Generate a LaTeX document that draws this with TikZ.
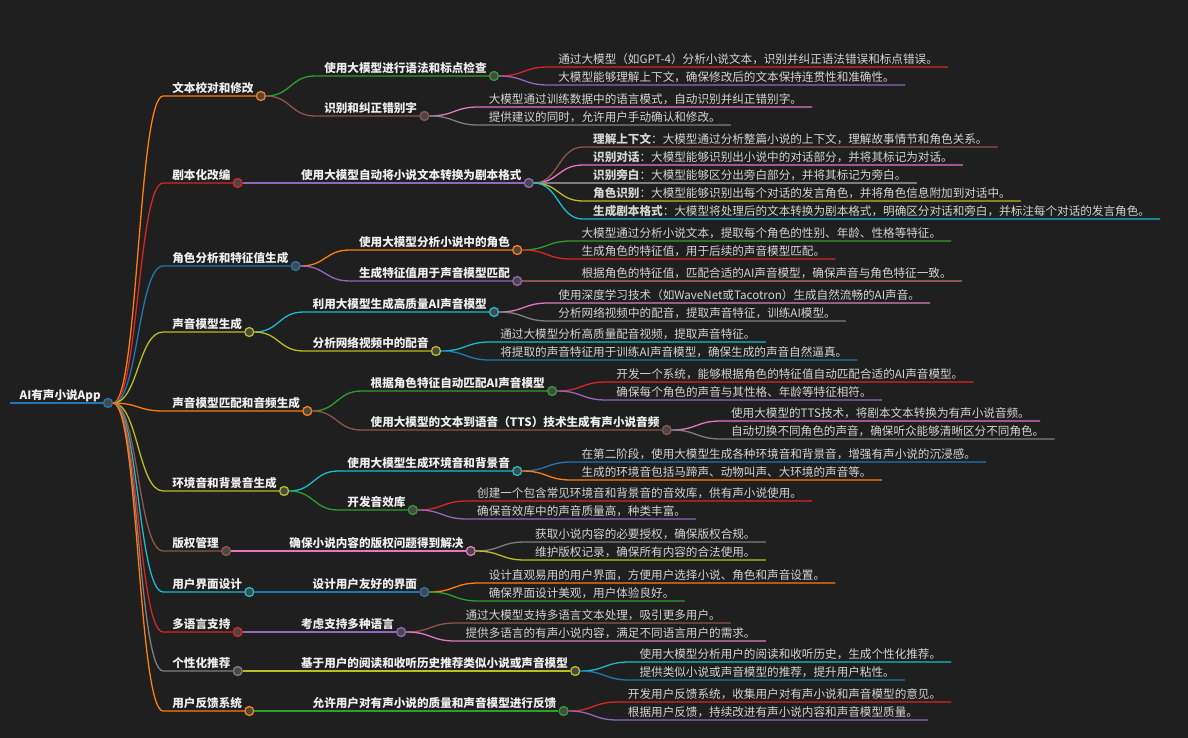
\documentclass[tikz,border=0pt]{standalone}
\usepackage{fontspec}
\setmainfont{Noto Sans CJK SC}
\usetikzlibrary{positioning, calc}
\definecolor{fondo}{RGB}{31,31,31}
\definecolor{textoTema}{RGB}{238,238,238}
\definecolor{textoHoja}{RGB}{212,212,212}
\definecolor{rellenoPunto}{RGB}{72,72,72}
\definecolor{cAzul}{RGB}{31,119,180}
\definecolor{cNaranja}{RGB}{255,127,14}
\definecolor{cVerde}{RGB}{44,160,44}
\definecolor{cRojo}{RGB}{214,39,40}
\definecolor{cMorado}{RGB}{148,103,189}
\definecolor{cMarron}{RGB}{140,86,75}
\definecolor{cRosa}{RGB}{227,119,194}
\definecolor{cGris}{RGB}{127,127,127}
\definecolor{cOliva}{RGB}{188,189,34}
\definecolor{cCian}{RGB}{23,190,207}
\begin{document}
\begin{tikzpicture}
        [
        x=1pt, y=-1pt,
            punto/.style={
                circle,
                draw=#1,
                fill=rellenoPunto,
                line width=1.3pt,
                minimum size=9pt,
                inner sep=0pt
            },
            tema/.style={
                font=\bfseries\fontsize{11.6}{13}\selectfont,
                text=textoTema,
                inner xsep=9pt,
                inner ysep=2pt,
                text depth=1.2pt
            },
            hoja/.style={
                font=\fontsize{11.6}{13}\selectfont,
                text=textoHoja,
                inner xsep=10pt,
                inner ysep=2pt,
                text depth=1.2pt
            },
            rama/.style={
                draw=#1,
                line width=1.3pt
            },
            enlace/.style={
                to path={.. controls ($(\tikztostart)!.5!(\tikztotarget |- \tikztostart)$) and ($(\tikztotarget)!.5!(\tikztostart |- \tikztotarget)$) .. (\tikztotarget) \tikztonodes}
            }
        ]
        \fill[fondo] (0,0) rectangle (1188,738);
        \useasboundingbox (0,0) rectangle (1188,738);

        % raiz
        \node(raiz) [punto=cAzul] at (108,403) {};
        \node(app) [tema, above left=0pt and -7pt of raiz.west] {AI有声小说App};
        \draw[rama=cAzul] (app.south west)--(raiz);

        % primer nivel
        \node(revision) [tema, above right=307pt and 50pt of raiz.east] {文本校对和修改};
        \node(revisionP) [punto=cNaranja, right=-7pt of revision.south east] {};
        \node(guion) [tema, above right=220pt and 50pt of raiz.east] {剧本化改编};
        \node(guionP) [punto=cRojo, right=-7pt of guion.south east] {};
        \node(personajes) [tema, above right=137pt and 50pt of raiz.east] {角色分析和特征值生成};
        \node(personajesP) [punto=cAzul, right=-7pt of personajes.south east] {};
        \node(voces) [tema, above right=71pt and 50pt of raiz.east] {声音模型生成};
        \node(vocesP) [punto=cOliva, right=-7pt of voces.south east] {};
        \node(audio) [tema, above right=-8pt and 50pt of raiz.east] {声音模型匹配和音频生成};
        \node(audioP) [punto=cNaranja, right=-7pt of audio.south east] {};
        \node(ambiente) [tema, above right=-88pt and 50pt of raiz.east] {环境音和背景音生成};
        \node(ambienteP) [punto=cOliva, right=-7pt of ambiente.south east] {};
        \node(derechos) [tema, above right=-148pt and 50pt of raiz.east] {版权管理};
        \node(derechosP) [punto=cMarron, right=-7pt of derechos.south east] {};
        \node(interfaz) [tema, above right=-189pt and 50pt of raiz.east] {用户界面设计};
        \node(interfazP) [punto=cCian, right=-7pt of interfaz.south east] {};
        \node(idiomas) [tema, above right=-229pt and 50pt of raiz.east] {多语言支持};
        \node(idiomasP) [punto=cRojo, right=-7pt of idiomas.south east] {};
        \node(recomendacion) [tema, above right=-268pt and 50pt of raiz.east] {个性化推荐};
        \node(recomendacionP) [punto=cGris, right=-7pt of recomendacion.south east] {};
        \node(opiniones) [tema, above right=-308pt and 50pt of raiz.east] {用户反馈系统};
        \node(opinionesP) [punto=cNaranja, right=-7pt of opiniones.south east] {};

        \draw[rama=cNaranja] (raiz.east) to[enlace] (revision.south west)--(revisionP);
        \draw[rama=cRojo] (raiz.east) to[enlace] (guion.south west)--(guionP);
        \draw[rama=cAzul] (raiz.east) to[enlace] (personajes.south west)--(personajesP);
        \draw[rama=cOliva] (raiz.east) to[enlace] (voces.south west)--(vocesP);
        \draw[rama=cNaranja] (raiz.east) to[enlace] (audio.south west)--(audioP);
        \draw[rama=cOliva] (raiz.east) to[enlace] (ambiente.south west)--(ambienteP);
        \draw[rama=cMarron] (raiz.east) to[enlace] (derechos.south west)--(derechosP);
        \draw[rama=cCian] (raiz.east) to[enlace] (interfaz.south west)--(interfazP);
        \draw[rama=cRojo] (raiz.east) to[enlace] (idiomas.south west)--(idiomasP);
        \draw[rama=cGris] (raiz.east) to[enlace] (recomendacion.south west)--(recomendacionP);
        \draw[rama=cNaranja] (raiz.east) to[enlace] (opiniones.south west)--(opinionesP);

        % segundo nivel
        \node(gramatica) [tema, above right=20pt and 49pt of revisionP.east] {使用大模型进行语法和标点检查};
        \node(gramaticaP) [punto=cVerde, right=-7pt of gramatica.south east] {};
        \node(erratas) [tema, above right=-20pt and 49pt of revisionP.east] {识别和纠正错别字};
        \node(erratasP) [punto=cMarron, right=-7pt of erratas.south east] {};
        \node(formato) [tema, above right=0pt and 49pt of guionP.east] {使用大模型自动将小说文本转换为剧本格式};
        \node(formatoP) [punto=cMorado, right=-7pt of formato.south east] {};
        \node(analisis) [tema, above right=16pt and 49pt of personajesP.east] {使用大模型分析小说中的角色};
        \node(analisisP) [punto=cNaranja, right=-7pt of analisis.south east] {};
        \node(rasgos) [tema, above right=-15pt and 49pt of personajesP.east] {生成特征值用于声音模型匹配};
        \node(rasgosP) [punto=cMorado, right=-7pt of rasgos.south east] {};
        \node(modelos) [tema, above right=20pt and 49pt of vocesP.east] {利用大模型生成高质量AI声音模型};
        \node(modelosP) [punto=cCian, right=-7pt of modelos.south east] {};
        \node(doblaje) [tema, above right=-19pt and 49pt of vocesP.east] {分析网络视频中的配音};
        \node(doblajeP) [punto=cOliva, right=-7pt of doblaje.south east] {};
        \node(emparejar) [tema, above right=20pt and 49pt of audioP.east] {根据角色特征自动匹配AI声音模型};
        \node(emparejarP) [punto=cVerde, right=-7pt of emparejar.south east] {};
        \node(tts) [tema, above right=-19pt and 49pt of audioP.east] {使用大模型的文本到语音（TTS）技术生成有声小说音频};
        \node(ttsP) [punto=cMarron, right=-7pt of tts.south east] {};
        \node(sonidos) [tema, above right=20pt and 49pt of ambienteP.east] {使用大模型生成环境音和背景音};
        \node(sonidosP) [punto=cCian, right=-7pt of sonidos.south east] {};
        \node(efectos) [tema, above right=-19pt and 49pt of ambienteP.east] {开发音效库};
        \node(efectosP) [punto=cVerde, right=-7pt of efectos.south east] {};
        \node(permisos) [tema, above right=0pt and 49pt of derechosP.east] {确保小说内容的版权问题得到解决};
        \node(permisosP) [punto=cRosa, right=-7pt of permisos.south east] {};
        \node(amigable) [tema, above right=0pt and 49pt of interfazP.east] {设计用户友好的界面};
        \node(amigableP) [punto=cAzul, right=-7pt of amigable.south east] {};
        \node(multilingue) [tema, above right=0pt and 49pt of idiomasP.east] {考虑支持多种语言};
        \node(multilingueP) [punto=cMorado, right=-7pt of multilingue.south east] {};
        \node(historial) [tema, above right=0pt and 49pt of recomendacionP.east] {基于用户的阅读和收听历史推荐类似小说或声音模型};
        \node(historialP) [punto=cOliva, right=-7pt of historial.south east] {};
        \node(comentarios) [tema, above right=0pt and 49pt of opinionesP.east] {允许用户对有声小说的质量和声音模型进行反馈};
        \node(comentariosP) [punto=cVerde, right=-7pt of comentarios.south east] {};

        \draw[rama=cVerde] (revisionP.east) to[enlace] (gramatica.south west)--(gramaticaP);
        \draw[rama=cMarron] (revisionP.east) to[enlace] (erratas.south west)--(erratasP);
        \draw[rama=cMorado] (guionP.east) to[enlace] (formato.south west)--(formatoP);
        \draw[rama=cNaranja] (personajesP.east) to[enlace] (analisis.south west)--(analisisP);
        \draw[rama=cMorado] (personajesP.east) to[enlace] (rasgos.south west)--(rasgosP);
        \draw[rama=cCian] (vocesP.east) to[enlace] (modelos.south west)--(modelosP);
        \draw[rama=cOliva] (vocesP.east) to[enlace] (doblaje.south west)--(doblajeP);
        \draw[rama=cVerde] (audioP.east) to[enlace] (emparejar.south west)--(emparejarP);
        \draw[rama=cMarron] (audioP.east) to[enlace] (tts.south west)--(ttsP);
        \draw[rama=cCian] (ambienteP.east) to[enlace] (sonidos.south west)--(sonidosP);
        \draw[rama=cVerde] (ambienteP.east) to[enlace] (efectos.south west)--(efectosP);
        \draw[rama=cRosa] (derechosP.east) to[enlace] (permisos.south west)--(permisosP);
        \draw[rama=cAzul] (interfazP.east) to[enlace] (amigable.south west)--(amigableP);
        \draw[rama=cMorado] (idiomasP.east) to[enlace] (multilingue.south west)--(multilingueP);
        \draw[rama=cOliva] (recomendacionP.east) to[enlace] (historial.south west)--(historialP);
        \draw[rama=cVerde] (opinionesP.east) to[enlace] (comentarios.south west)--(comentariosP);

        % hojas
        \node(gramatica1) [hoja, above right=9pt and 49pt of gramaticaP.east] {通过大模型（如GPT-4）分析小说文本，识别并纠正语法错误和标点错误。};
        \node(gramatica2) [hoja, above right=-9pt and 49pt of gramaticaP.east] {大模型能够理解上下文，确保修改后的文本保持连贯性和准确性。};
        \node(erratas1) [hoja, above right=9pt and 49pt of erratasP.east] {大模型通过训练数据中的语言模式，自动识别并纠正错别字。};
        \node(erratas2) [hoja, above right=-9pt and 49pt of erratasP.east] {提供建议的同时，允许用户手动确认和修改。};
        \node(formato1) [hoja, above right=36pt and 49pt of formatoP.east] {\textbf{理解上下文}：大模型通过分析整篇小说的上下文，理解故事情节和角色关系。};
        \node(formato2) [hoja, above right=18pt and 49pt of formatoP.east] {\textbf{识别对话}：大模型能够识别出小说中的对话部分，并将其标记为对话。};
        \node(formato3) [hoja, above right=0pt and 49pt of formatoP.east] {\textbf{识别旁白}：大模型能够区分出旁白部分，并将其标记为旁白。};
        \node(formato4) [hoja, above right=-18pt and 49pt of formatoP.east] {\textbf{角色识别}：大模型能够识别出每个对话的发言角色，并将角色信息附加到对话中。};
        \node(formato5) [hoja, above right=-36pt and 49pt of formatoP.east] {\textbf{生成剧本格式}：大模型将处理后的文本转换为剧本格式，明确区分对话和旁白，并标注每个对话的发言角色。};
        \node(analisis1) [hoja, above right=9pt and 49pt of analisisP.east] {大模型通过分析小说文本，提取每个角色的性别、年龄、性格等特征。};
        \node(analisis2) [hoja, above right=-9pt and 49pt of analisisP.east] {生成角色的特征值，用于后续的声音模型匹配。};
        \node(rasgos1) [hoja, above right=0pt and 49pt of rasgosP.east] {根据角色的特征值，匹配合适的AI声音模型，确保声音与角色特征一致。};
        \node(modelos1) [hoja, above right=9pt and 49pt of modelosP.east] {使用深度学习技术（如WaveNet或Tacotron）生成自然流畅的AI声音。};
        \node(modelos2) [hoja, above right=-9pt and 49pt of modelosP.east] {分析网络视频中的配音，提取声音特征，训练AI模型。};
        \node(doblaje1) [hoja, above right=9pt and 49pt of doblajeP.east] {通过大模型分析高质量配音视频，提取声音特征。};
        \node(doblaje2) [hoja, above right=-9pt and 49pt of doblajeP.east] {将提取的声音特征用于训练AI声音模型，确保生成的声音自然逼真。};
        \node(emparejar1) [hoja, above right=9pt and 49pt of emparejarP.east] {开发一个系统，能够根据角色的特征值自动匹配合适的AI声音模型。};
        \node(emparejar2) [hoja, above right=-9pt and 49pt of emparejarP.east] {确保每个角色的声音与其性格、年龄等特征相符。};
        \node(tts1) [hoja, above right=9pt and 49pt of ttsP.east] {使用大模型的TTS技术，将剧本文本转换为有声小说音频。};
        \node(tts2) [hoja, above right=-9pt and 49pt of ttsP.east] {自动切换不同角色的声音，确保听众能够清晰区分不同角色。};
        \node(sonidos1) [hoja, above right=9pt and 49pt of sonidosP.east] {在第二阶段，使用大模型生成各种环境音和背景音，增强有声小说的沉浸感。};
        \node(sonidos2) [hoja, above right=-9pt and 49pt of sonidosP.east] {生成的环境音包括马蹄声、动物叫声、大环境的声音等。};
        \node(efectos1) [hoja, above right=9pt and 49pt of efectosP.east] {创建一个包含常见环境音和背景音的音效库，供有声小说使用。};
        \node(efectos2) [hoja, above right=-9pt and 49pt of efectosP.east] {确保音效库中的声音质量高，种类丰富。};
        \node(permisos1) [hoja, above right=9pt and 49pt of permisosP.east] {获取小说内容的必要授权，确保版权合规。};
        \node(permisos2) [hoja, above right=-9pt and 49pt of permisosP.east] {维护版权记录，确保所有内容的合法使用。};
        \node(amigable1) [hoja, above right=9pt and 49pt of amigableP.east] {设计直观易用的用户界面，方便用户选择小说、角色和声音设置。};
        \node(amigable2) [hoja, above right=-9pt and 49pt of amigableP.east] {确保界面设计美观，用户体验良好。};
        \node(multilingue1) [hoja, above right=9pt and 49pt of multilingueP.east] {通过大模型支持多语言文本处理，吸引更多用户。};
        \node(multilingue2) [hoja, above right=-9pt and 49pt of multilingueP.east] {提供多语言的有声小说内容，满足不同语言用户的需求。};
        \node(historial1) [hoja, above right=9pt and 49pt of historialP.east] {使用大模型分析用户的阅读和收听历史，生成个性化推荐。};
        \node(historial2) [hoja, above right=-9pt and 49pt of historialP.east] {提供类似小说或声音模型的推荐，提升用户粘性。};
        \node(comentarios1) [hoja, above right=9pt and 49pt of comentariosP.east] {开发用户反馈系统，收集用户对有声小说和声音模型的意见。};
        \node(comentarios2) [hoja, above right=-9pt and 49pt of comentariosP.east] {根据用户反馈，持续改进有声小说内容和声音模型质量。};

        \draw[rama=cRojo] (gramaticaP.east) to[enlace] (gramatica1.south west)--(gramatica1.south east);
        \draw[rama=cMorado] (gramaticaP.east) to[enlace] (gramatica2.south west)--(gramatica2.south east);
        \draw[rama=cRosa] (erratasP.east) to[enlace] (erratas1.south west)--(erratas1.south east);
        \draw[rama=cGris] (erratasP.east) to[enlace] (erratas2.south west)--(erratas2.south east);
        \draw[rama=cMarron] (formatoP.east) to[enlace] (formato1.south west)--(formato1.south east);
        \draw[rama=cRosa] (formatoP.east) to[enlace] (formato2.south west)--(formato2.south east);
        \draw[rama=cGris] (formatoP.east) to[enlace] (formato3.south west)--(formato3.south east);
        \draw[rama=cOliva] (formatoP.east) to[enlace] (formato4.south west)--(formato4.south east);
        \draw[rama=cCian] (formatoP.east) to[enlace] (formato5.south west)--(formato5.south east);
        \draw[rama=cVerde] (analisisP.east) to[enlace] (analisis1.south west)--(analisis1.south east);
        \draw[rama=cRojo] (analisisP.east) to[enlace] (analisis2.south west)--(analisis2.south east);
        \draw[rama=cMarron] (rasgosP.east) to[enlace] (rasgos1.south west)--(rasgos1.south east);
        \draw[rama=cRosa] (modelosP.east) to[enlace] (modelos1.south west)--(modelos1.south east);
        \draw[rama=cGris] (modelosP.east) to[enlace] (modelos2.south west)--(modelos2.south east);
        \draw[rama=cCian] (doblajeP.east) to[enlace] (doblaje1.south west)--(doblaje1.south east);
        \draw[rama=cAzul] (doblajeP.east) to[enlace] (doblaje2.south west)--(doblaje2.south east);
        \draw[rama=cRojo] (emparejarP.east) to[enlace] (emparejar1.south west)--(emparejar1.south east);
        \draw[rama=cMorado] (emparejarP.east) to[enlace] (emparejar2.south west)--(emparejar2.south east);
        \draw[rama=cRosa] (ttsP.east) to[enlace] (tts1.south west)--(tts1.south east);
        \draw[rama=cGris] (ttsP.east) to[enlace] (tts2.south west)--(tts2.south east);
        \draw[rama=cAzul] (sonidosP.east) to[enlace] (sonidos1.south west)--(sonidos1.south east);
        \draw[rama=cNaranja] (sonidosP.east) to[enlace] (sonidos2.south west)--(sonidos2.south east);
        \draw[rama=cRojo] (efectosP.east) to[enlace] (efectos1.south west)--(efectos1.south east);
        \draw[rama=cMorado] (efectosP.east) to[enlace] (efectos2.south west)--(efectos2.south east);
        \draw[rama=cGris] (permisosP.east) to[enlace] (permisos1.south west)--(permisos1.south east);
        \draw[rama=cOliva] (permisosP.east) to[enlace] (permisos2.south west)--(permisos2.south east);
        \draw[rama=cNaranja] (amigableP.east) to[enlace] (amigable1.south west)--(amigable1.south east);
        \draw[rama=cVerde] (amigableP.east) to[enlace] (amigable2.south west)--(amigable2.south east);
        \draw[rama=cMarron] (multilingueP.east) to[enlace] (multilingue1.south west)--(multilingue1.south east);
        \draw[rama=cRosa] (multilingueP.east) to[enlace] (multilingue2.south west)--(multilingue2.south east);
        \draw[rama=cCian] (historialP.east) to[enlace] (historial1.south west)--(historial1.south east);
        \draw[rama=cAzul] (historialP.east) to[enlace] (historial2.south west)--(historial2.south east);
        \draw[rama=cRojo] (comentariosP.east) to[enlace] (comentarios1.south west)--(comentarios1.south east);
        \draw[rama=cMorado] (comentariosP.east) to[enlace] (comentarios2.south west)--(comentarios2.south east);
    \end{tikzpicture}
\end{document}
